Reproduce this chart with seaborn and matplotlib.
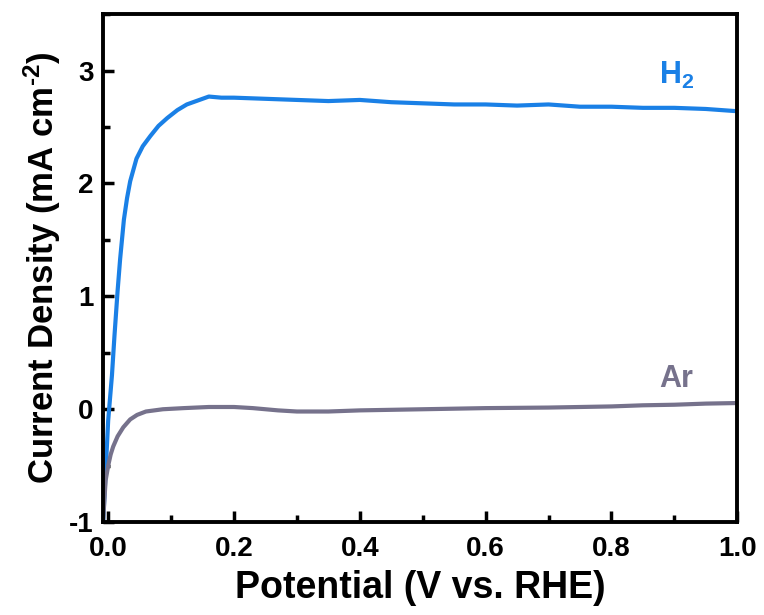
import matplotlib
matplotlib.use("Agg")
import matplotlib.pyplot as plt
import seaborn as sns
import pandas as pd
from matplotlib.ticker import MultipleLocator

sns.set_theme(style="ticks")
plt.rcParams['font.family'] = ['Liberation Sans', 'DejaVu Sans']
plt.rcParams['font.weight'] = 'bold'
plt.rcParams['text.color'] = 'black'
plt.rcParams['axes.labelcolor'] = 'black'
plt.rcParams['xtick.color'] = 'black'
plt.rcParams['ytick.color'] = 'black'
plt.rcParams['mathtext.fontset'] = 'custom'
plt.rcParams['mathtext.rm'] = 'Liberation Sans:bold'
plt.rcParams['mathtext.bf'] = 'Liberation Sans:bold'
plt.rcParams['mathtext.it'] = 'Liberation Sans:bold'

# Data
h2_potential = [-0.008, -0.004, 0.0, 0.003, 0.006, 0.010, 0.015, 0.019, 0.025, 0.030, 0.035, 0.045, 0.055,
                0.067, 0.080, 0.094, 0.110, 0.125, 0.135, 0.150, 0.160, 0.180, 0.200, 0.250, 0.300,
                0.350, 0.400, 0.450, 0.500, 0.550, 0.600, 0.650, 0.700, 0.750, 0.800, 0.850, 0.900, 0.950, 1.000]
h2_current = [-1.00, -0.55, -0.10, 0.10, 0.30, 0.65, 1.05, 1.33, 1.68, 1.87, 2.02, 2.22, 2.33,
              2.42, 2.51, 2.58, 2.65, 2.70, 2.72, 2.75, 2.77, 2.76, 2.76, 2.75, 2.74,
              2.73, 2.74, 2.72, 2.71, 2.70, 2.70, 2.69, 2.70, 2.68, 2.68, 2.67, 2.67, 2.66, 2.64]

ar_potential = [-0.008, -0.006, -0.004, 0.000, 0.004, 0.008, 0.015, 0.024, 0.035, 0.046, 0.060, 0.087,
                0.120, 0.160, 0.200, 0.230, 0.270, 0.300, 0.350, 0.400, 0.500, 0.600, 0.700,
                0.800, 0.850, 0.900, 0.950, 1.000]
ar_current = [-1.00, -0.80, -0.63, -0.50, -0.40, -0.33, -0.24, -0.16, -0.09, -0.05, -0.02, 0.00,
              0.01, 0.02, 0.02, 0.01, -0.01, -0.02, -0.02, -0.01, 0.00, 0.01, 0.015,
              0.025, 0.035, 0.04, 0.05, 0.055]

labels = ["H$_\\mathbf{2}$", "Ar"]
colors = ["#1a80e6", "#76728c"]
x_ticks = [0.0, 0.2, 0.4, 0.6, 0.8, 1.0]
x_ticklabels = ["0.0", "0.2", "0.4", "0.6", "0.8", "1.0"]
y_ticks = [-1, 0, 1, 2, 3]
y_ticklabels = ["-1", "0", "1", "2", "3"]

df = pd.concat([
    pd.DataFrame({"Potential": h2_potential, "Current": h2_current, "Gas": "H2"}),
    pd.DataFrame({"Potential": ar_potential, "Current": ar_current, "Gas": "Ar"}),
])

fig, ax = plt.subplots(figsize=(7.64, 6.15), dpi=100)
fig.subplots_adjust(left=0.135, right=0.965, top=0.977, bottom=0.151)

sns.lineplot(data=df, x="Potential", y="Current", hue="Gas", palette=colors,
             hue_order=["H2", "Ar"], sort=False, estimator=None, linewidth=3.0,
             legend=False, ax=ax)

ax.set_xlim(-0.008, 1.0)
ax.set_ylim(-1, 3.5)
ax.xaxis.set_minor_locator(MultipleLocator(0.1))
ax.yaxis.set_minor_locator(MultipleLocator(0.5))
ax.set_xticks(x_ticks)
ax.set_xticklabels(x_ticklabels)
ax.set_yticks(y_ticks)
ax.set_yticklabels(y_ticklabels)

ax.tick_params(which="major", direction="in", length=8, width=2.5, labelsize=20)
ax.tick_params(axis="x", which="major", pad=10)
ax.tick_params(axis="y", which="major", pad=7)
ax.tick_params(which="minor", direction="in", length=5, width=2.5)
for lab in ax.get_xticklabels() + ax.get_yticklabels():
    lab.set_fontweight("bold")
for s in ax.spines.values():
    s.set_linewidth(2.8)
    s.set_color("black")

ax.set_xlabel("Potential (V vs. RHE)", fontsize=27, fontweight="bold", labelpad=6)
ax.set_ylabel("Current Density (mA cm$^{\\text{-2}}$)", fontsize=25, fontweight="bold", labelpad=4)

ax.text(0.876, 2.96, labels[0], color=colors[0], fontsize=22, fontweight="bold", ha="left", va="center")
ax.text(0.876, 0.27, labels[1], color=colors[1], fontsize=22, fontweight="bold", ha="left", va="center")

fig.savefig("out.png", dpi=100)
